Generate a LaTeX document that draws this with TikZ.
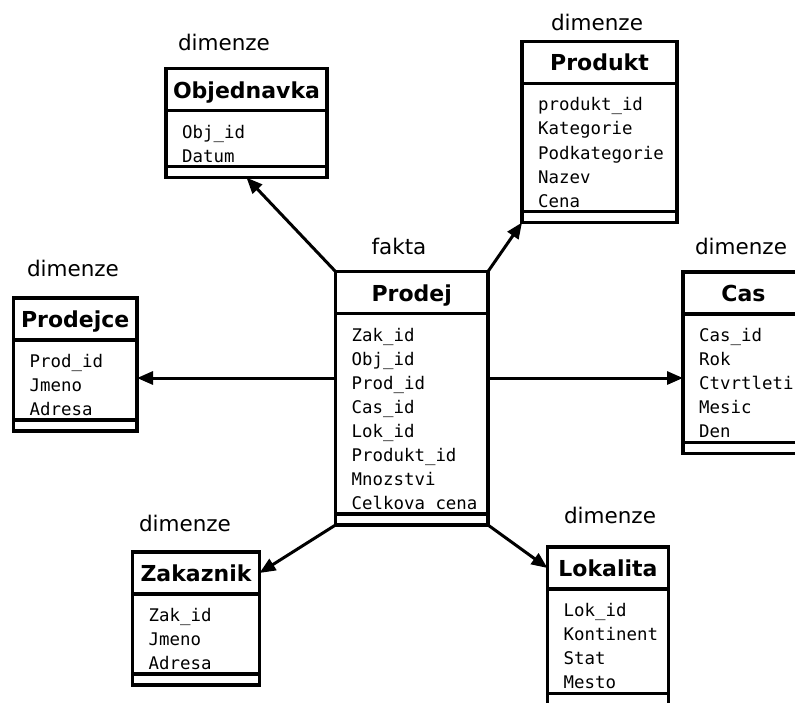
\documentclass[tikz,border=0pt]{standalone}
\usepackage{fontspec}
\setmainfont{DejaVu Sans}
\newfontfamily\attrfont{DejaVu Sans Mono}
\usetikzlibrary{arrows.meta,calc}

\tikzset{
  tabpart/.style={draw, line width=3.2pt, rectangle, inner sep=0pt, outer sep=0pt},
  tabhead/.style={tabpart, minimum height=42pt,
    font=\fontsize{22}{26}\selectfont\bfseries, text height=20pt, text depth=3pt},
  tabbody/.style={tabpart},
  tabfoot/.style={tabpart, minimum height=11pt},
  attr/.style={anchor=base west, inner sep=0pt, font=\attrfont\fontsize{17.4}{20}\selectfont},
  caption/.style={anchor=base, inner sep=0pt, font=\fontsize{21.5}{25}\selectfont},
  link/.style={line width=3pt, -{Triangle[length=16pt,width=13pt]}},
}

% #1 name, #2 left x, #3 y of the header rule, #4 width, #5 rows, #6 title, #7 attributes
\newcommand\dbtable[7]{%
  \node[tabhead, minimum width=#4, anchor=south west] (#1) at (#2,#3) {#6};
  \node[tabbody, minimum width=#4, minimum height={#5*24.1+7.7}, anchor=north west]
    (#1-b) at (#1.south west) {};
  \node[tabfoot, minimum width=#4, anchor=north west] (#1-f) at (#1-b.south west) {};
  \foreach \a [count=\i] in {#7}
    \node[attr] (#1-a\i) at ($(#1.south west)+(16,{27.5+(\i-1)*24.1})$) {\a};
}

\begin{document}
\begin{tikzpicture}[x=1pt, y=-1pt]
  \useasboundingbox (0,0) rectangle (795,702);
  \fill[white] (0,0) rectangle (795,702);
  \clip (0,0) rectangle (795,702);

  % dimension and fact tables
  \dbtable{objednavka}{166}{110.7}{161}{2}{Objednavka}{Obj\_id,Datum}
  \dbtable{produkt}{522}{83.3}{155}{5}{Produkt}{produkt\_id,Kategorie,Podkategorie,Nazev,Cena}
  \dbtable{prodejce}{13.5}{340}{123.5}{3}{Prodejce}{Prod\_id,Jmeno,Adresa}
  \dbtable{prodej}{335.5}{313.5}{152.5}{8}{Prodej}{Zak\_id,Obj\_id,Prod\_id,Cas\_id,Lok\_id,Produkt\_id,Mnozstvi,Celkova cena}
  \dbtable{cas}{683}{314}{121}{5}{Cas}{Cas\_id,Rok,Ctvrtleti,Mesic,Den}
  \dbtable{zakaznik}{132.5}{594}{127}{3}{Zakaznik}{Zak\_id,Jmeno,Adresa}
  \dbtable{lokalita}{547.5}{589}{121}{4}{Lokalita}{Lok\_id,Kontinent,Stat,Mesto}

  % table roles
  \node[caption] (objednavka-l) at (224,50) {dimenze};
  \node[caption] (produkt-l) at (597,30) {dimenze};
  \node[caption] (prodejce-l) at (73,276) {dimenze};
  \node[caption] (prodej-l) at (399,254) {fakta};
  \node[caption] (cas-l) at (741,254) {dimenze};
  \node[caption] (zakaznik-l) at (185,531) {dimenze};
  \node[caption] (lokalita-l) at (610,523) {dimenze};

  % references from the fact table
  \coordinate (row) at (0,378);
  \draw[link] (prodej.north west) -- (objednavka-f.south);
  \draw[link] (prodej.north east) -- (produkt-f.south west);
  \draw[link] (prodej-b.west |- row) -- (prodejce-b.east |- row);
  \draw[link] (prodej-b.east |- row) -- (cas-b.west |- row);
  \draw[link] (prodej-f.south west) -- (zakaznik.east);
  \draw[link] (prodej-f.south east) -- (lokalita.west);
\end{tikzpicture}
\end{document}
